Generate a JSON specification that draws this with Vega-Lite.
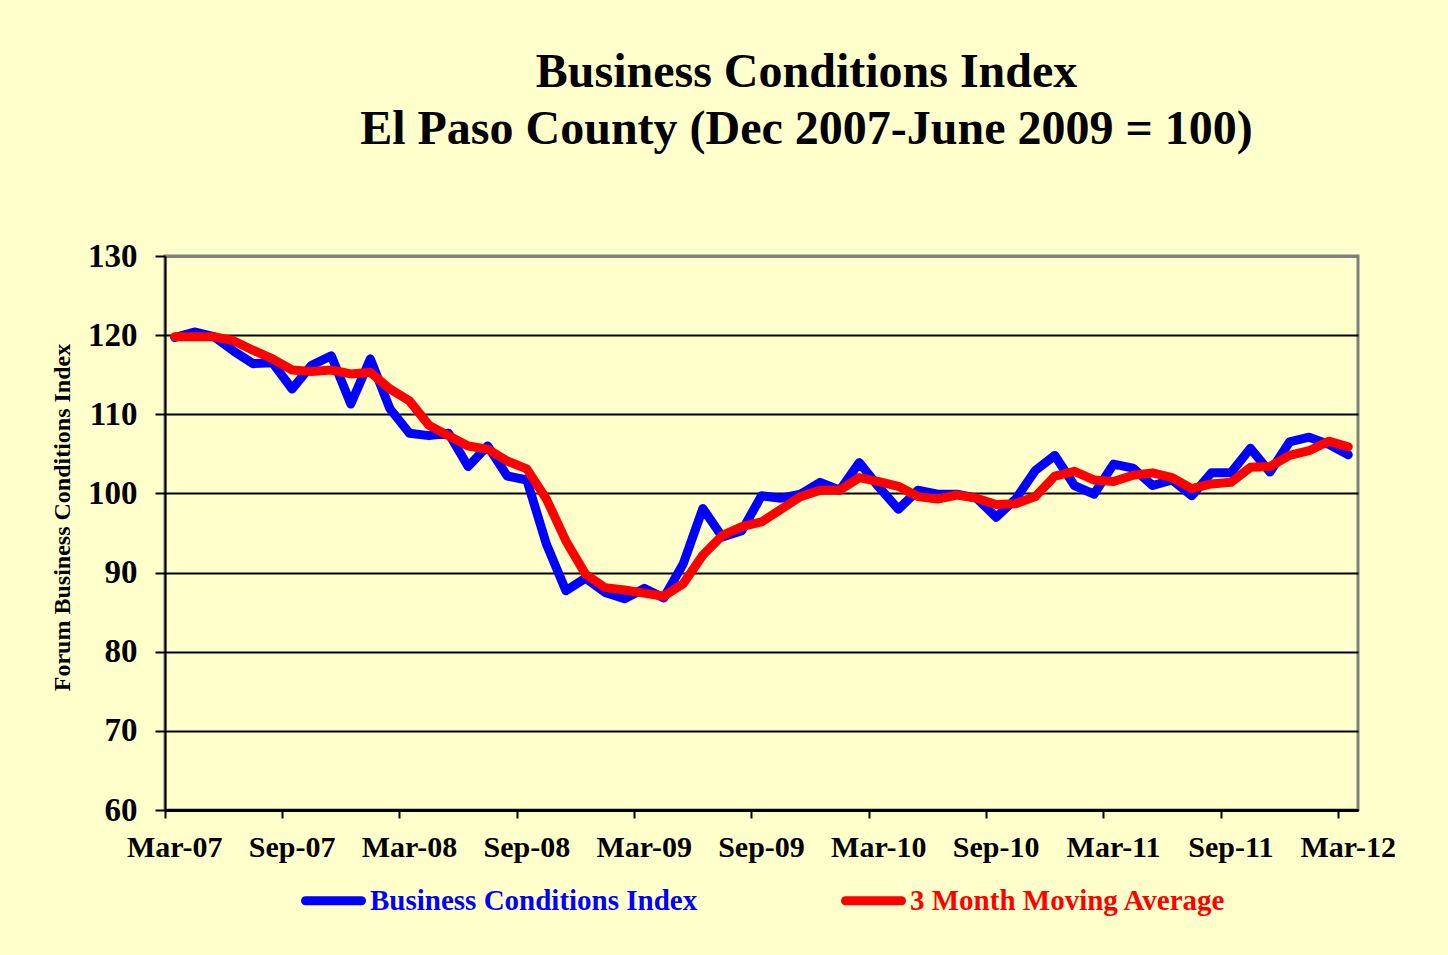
{
  "$schema": "https://vega.github.io/schema/vega-lite/v6.json",
  "autosize": {"type": "none"},
  "width": 1193,
  "height": 554,
  "padding": {"left": 165, "top": 256, "right": 90, "bottom": 145},
  "background": "#FFFFCC",
  "title": {
    "text": ["Business Conditions Index", "El Paso County (Dec 2007-June 2009 = 100)"],
    "font": "Liberation Serif",
    "fontSize": 48,
    "fontWeight": "bold",
    "color": "black",
    "anchor": "middle",
    "frame": "group",
    "dx": 45,
    "offset": 86,
    "lineHeight": 57
  },
  "data": {
    "values": [
      {"month": "Mar-07", "Business Conditions Index": 119.7, "3 Month Moving Average": 119.8},
      {"month": "Apr-07", "Business Conditions Index": 120.4, "3 Month Moving Average": 119.8},
      {"month": "May-07", "Business Conditions Index": 119.8, "3 Month Moving Average": 119.8},
      {"month": "Jun-07", "Business Conditions Index": 118.0, "3 Month Moving Average": 119.3},
      {"month": "Jul-07", "Business Conditions Index": 116.4, "3 Month Moving Average": 118.1},
      {"month": "Aug-07", "Business Conditions Index": 116.5, "3 Month Moving Average": 117.0},
      {"month": "Sep-07", "Business Conditions Index": 113.2, "3 Month Moving Average": 115.6},
      {"month": "Oct-07", "Business Conditions Index": 116.2, "3 Month Moving Average": 115.4},
      {"month": "Nov-07", "Business Conditions Index": 117.4, "3 Month Moving Average": 115.6},
      {"month": "Dec-07", "Business Conditions Index": 111.3, "3 Month Moving Average": 115.1},
      {"month": "Jan-08", "Business Conditions Index": 117.0, "3 Month Moving Average": 115.3},
      {"month": "Feb-08", "Business Conditions Index": 110.7, "3 Month Moving Average": 113.2},
      {"month": "Mar-08", "Business Conditions Index": 107.6, "3 Month Moving Average": 111.7},
      {"month": "Apr-08", "Business Conditions Index": 107.3, "3 Month Moving Average": 108.6},
      {"month": "May-08", "Business Conditions Index": 107.6, "3 Month Moving Average": 107.3},
      {"month": "Jun-08", "Business Conditions Index": 103.4, "3 Month Moving Average": 106.0},
      {"month": "Jul-08", "Business Conditions Index": 106.0, "3 Month Moving Average": 105.6},
      {"month": "Aug-08", "Business Conditions Index": 102.2, "3 Month Moving Average": 104.1},
      {"month": "Sep-08", "Business Conditions Index": 101.7, "3 Month Moving Average": 103.1},
      {"month": "Oct-08", "Business Conditions Index": 93.6, "3 Month Moving Average": 99.3},
      {"month": "Nov-08", "Business Conditions Index": 87.7, "3 Month Moving Average": 94.0},
      {"month": "Dec-08", "Business Conditions Index": 89.3, "3 Month Moving Average": 89.8},
      {"month": "Jan-09", "Business Conditions Index": 87.5, "3 Month Moving Average": 88.1},
      {"month": "Feb-09", "Business Conditions Index": 86.7, "3 Month Moving Average": 87.8},
      {"month": "Mar-09", "Business Conditions Index": 88.0, "3 Month Moving Average": 87.4},
      {"month": "Apr-09", "Business Conditions Index": 86.8, "3 Month Moving Average": 87.0},
      {"month": "May-09", "Business Conditions Index": 91.1, "3 Month Moving Average": 88.6},
      {"month": "Jun-09", "Business Conditions Index": 98.1, "3 Month Moving Average": 92.2},
      {"month": "Jul-09", "Business Conditions Index": 94.5, "3 Month Moving Average": 94.7},
      {"month": "Aug-09", "Business Conditions Index": 95.3, "3 Month Moving Average": 95.8},
      {"month": "Sep-09", "Business Conditions Index": 99.7, "3 Month Moving Average": 96.4},
      {"month": "Oct-09", "Business Conditions Index": 99.4, "3 Month Moving Average": 98.0},
      {"month": "Nov-09", "Business Conditions Index": 99.9, "3 Month Moving Average": 99.6},
      {"month": "Dec-09", "Business Conditions Index": 101.4, "3 Month Moving Average": 100.4},
      {"month": "Jan-10", "Business Conditions Index": 100.4, "3 Month Moving Average": 100.4},
      {"month": "Feb-10", "Business Conditions Index": 103.9, "3 Month Moving Average": 102.0},
      {"month": "Mar-10", "Business Conditions Index": 100.8, "3 Month Moving Average": 101.5},
      {"month": "Apr-10", "Business Conditions Index": 98.0, "3 Month Moving Average": 100.9},
      {"month": "May-10", "Business Conditions Index": 100.4, "3 Month Moving Average": 99.6},
      {"month": "Jun-10", "Business Conditions Index": 99.9, "3 Month Moving Average": 99.3},
      {"month": "Jul-10", "Business Conditions Index": 99.9, "3 Month Moving Average": 99.8},
      {"month": "Aug-10", "Business Conditions Index": 99.4, "3 Month Moving Average": 99.4},
      {"month": "Sep-10", "Business Conditions Index": 97.0, "3 Month Moving Average": 98.6},
      {"month": "Oct-10", "Business Conditions Index": 99.3, "3 Month Moving Average": 98.7},
      {"month": "Nov-10", "Business Conditions Index": 102.9, "3 Month Moving Average": 99.6},
      {"month": "Dec-10", "Business Conditions Index": 104.8, "3 Month Moving Average": 102.2},
      {"month": "Jan-11", "Business Conditions Index": 101.0, "3 Month Moving Average": 102.8},
      {"month": "Feb-11", "Business Conditions Index": 99.9, "3 Month Moving Average": 101.7},
      {"month": "Mar-11", "Business Conditions Index": 103.7, "3 Month Moving Average": 101.5},
      {"month": "Apr-11", "Business Conditions Index": 103.2, "3 Month Moving Average": 102.3},
      {"month": "May-11", "Business Conditions Index": 101.0, "3 Month Moving Average": 102.6},
      {"month": "Jun-11", "Business Conditions Index": 101.7, "3 Month Moving Average": 102.0},
      {"month": "Jul-11", "Business Conditions Index": 99.7, "3 Month Moving Average": 100.6},
      {"month": "Aug-11", "Business Conditions Index": 102.6, "3 Month Moving Average": 101.2},
      {"month": "Sep-11", "Business Conditions Index": 102.6, "3 Month Moving Average": 101.4},
      {"month": "Oct-11", "Business Conditions Index": 105.7, "3 Month Moving Average": 103.3},
      {"month": "Nov-11", "Business Conditions Index": 102.7, "3 Month Moving Average": 103.4},
      {"month": "Dec-11", "Business Conditions Index": 106.5, "3 Month Moving Average": 104.8},
      {"month": "Jan-12", "Business Conditions Index": 107.1, "3 Month Moving Average": 105.4},
      {"month": "Feb-12", "Business Conditions Index": 106.2, "3 Month Moving Average": 106.6},
      {"month": "Mar-12", "Business Conditions Index": 104.9, "3 Month Moving Average": 105.9}
    ]
  },
  "transform": [
    {"fold": ["Business Conditions Index", "3 Month Moving Average"], "as": ["series", "value"]}
  ],
  "mark": {"type": "line", "strokeWidth": 9, "strokeCap": "round", "strokeJoin": "round"},
  "encoding": {
    "x": {
      "field": "month",
      "type": "ordinal",
      "sort": null,
      "scale": {"type": "band", "paddingInner": 0, "paddingOuter": 0},
      "axis": {
        "title": null,
        "values": ["Mar-07", "Sep-07", "Mar-08", "Sep-08", "Mar-09", "Sep-09", "Mar-10", "Sep-10", "Mar-11", "Sep-11", "Mar-12"],
        "bandPosition": 0,
        "labelOffset": 0,
        "labelAngle": 0,
        "labelFont": "Liberation Serif",
        "labelFontSize": 30,
        "labelFontWeight": "bold",
        "labelColor": "black",
        "labelPadding": 14,
        "labelOverlap": false,
        "labelFlush": false,
        "tickSize": 8,
        "tickWidth": 2,
        "tickColor": "black",
        "domainColor": "black",
        "domainWidth": 3,
        "grid": false
      }
    },
    "y": {
      "field": "value",
      "type": "quantitative",
      "scale": {"domain": [60, 130], "nice": false, "zero": false},
      "axis": {
        "title": "Forum Business Conditions Index",
        "titleFont": "Liberation Serif",
        "titleFontSize": 24,
        "titleFontWeight": "bold",
        "titleColor": "black",
        "titleX": -103,
        "titleY": 261,
        "titleBaseline": "middle",
        "titleAngle": -90,
        "values": [60, 70, 80, 90, 100, 110, 120, 130],
        "labelFont": "Liberation Serif",
        "labelFontSize": 33,
        "labelFontWeight": "bold",
        "labelColor": "black",
        "labelPadding": 18,
        "tickSize": 10,
        "tickWidth": 2,
        "tickColor": "black",
        "domainColor": "black",
        "domainWidth": 2,
        "grid": true,
        "gridColor": {"condition": {"test": "datum.value === 130", "value": "#808080"}, "value": "black"},
        "gridWidth": {"condition": {"test": "datum.value === 130", "value": 3}, "value": 2},
        "gridOpacity": 1
      }
    },
    "color": {
      "field": "series",
      "type": "nominal",
      "sort": ["Business Conditions Index", "3 Month Moving Average"],
      "scale": {"domain": ["Business Conditions Index", "3 Month Moving Average"], "range": ["#0000FF", "#FF0000"]},
      "legend": {
        "title": null,
        "orient": "none",
        "direction": "horizontal",
        "legendX": 136,
        "legendY": 612,
        "padding": 0,
        "symbolType": "stroke",
        "symbolSize": 3136,
        "symbolStrokeWidth": 9,
        "labelFont": "Liberation Serif",
        "labelFontSize": 29,
        "labelFontWeight": "bold",
        "labelOffset": 4,
        "labelLimit": 0,
        "columnPadding": 129,
        "encode": {
          "labels": {"update": {"fill": {"signal": "datum.value === 'Business Conditions Index' ? '#0000FF' : '#FF0000'"}}},
          "symbols": {"update": {"strokeCap": {"value": "round"}}}
        }
      }
    }
  },
  "config": {
    "view": {"fill": "#FFFFCC", "stroke": "#808080", "strokeWidth": 3}
  }
}
